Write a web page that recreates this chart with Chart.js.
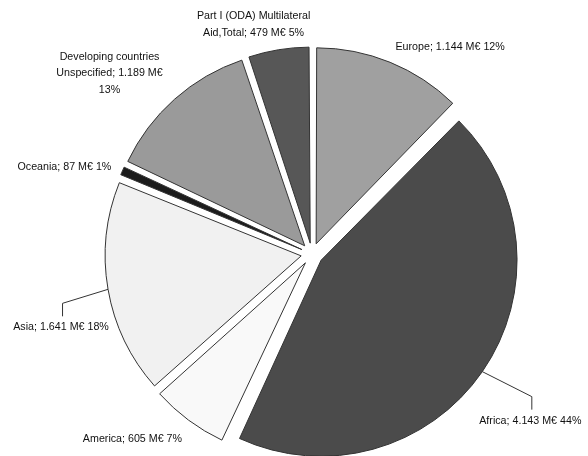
<!DOCTYPE html>
<html>
<head>
<meta charset="utf-8">
<script src="https://cdn.jsdelivr.net/npm/chart.js@4"></script>
<style>
  html, body { margin: 0; padding: 0; background: #fff; }
  #wrap { width: 588px; height: 456px; position: relative; }
</style>
</head>
<body>
<div id="wrap"><canvas id="pieChart"></canvas></div>
<script>
const regions = ['Europe', 'Africa', 'America', 'Asia', 'Oceania', 'Developing countries Unspecified', 'Part I (ODA) Multilateral Aid,Total'];
const valuesMEur = [1144, 4143, 605, 1641, 87, 1189, 479];
const percents = [12, 44, 7, 18, 1, 13, 5];

const sliceColors = ['#a0a0a0', '#4b4b4b', '#f9f9f9', '#f1f1f1', '#1c1c1c', '#9a9a9a', '#575757'];
// where each label sits, measured from the slice edge at its middle angle
const labelShift = [[60, -15], [48, 49], [-56, 19], [-47, 38], [-58, -4], [-65, -26], [-25, -25]];
const labelWrap = [200, 200, 200, 200, 200, 125, 130];
const leaderLine = [false, true, false, true, false, false, false];

function thousands(v) {
    return String(v).replace(/\B(?=(\d{3})+(?!\d))/g, '.');
}

function wrapText(ctx, text, maxW) {
    const words = text.split(' ');
    const lines = [];
    let cur = '';
    words.forEach(w => {
        const t = cur ? cur + ' ' + w : w;
        if (cur && ctx.measureText(t).width > maxW) {
            lines.push(cur);
            cur = w;
        } else {
            cur = t;
        }
    });
    if (cur) lines.push(cur);
    return lines;
}

const pieLabels = {
    id: 'pieLabels',
    beforeDatasetsDraw(chart) {
        // keep every exploded slice at the same radius
        const meta = chart.getDatasetMeta(0);
        const r = meta.controller.outerRadius;
        meta.data.forEach(arc => {
            const off = (arc.options.offset || 0) / 4;
            const fix = 1 - Math.sin(Math.min(Math.PI, arc.circumference));
            arc.outerRadius = r - off * fix;
        });
    },
    afterDatasetsDraw(chart) {
        const ctx = chart.ctx;
        const meta = chart.getDatasetMeta(0);
        const r = meta.controller.outerRadius;
        ctx.save();
        ctx.font = "10.7px 'Liberation Sans', Arial, sans-serif";
        ctx.fillStyle = '#111';
        ctx.strokeStyle = '#333';
        ctx.lineWidth = 1;
        ctx.textAlign = 'center';
        ctx.textBaseline = 'middle';
        meta.data.forEach((arc, i) => {
            const mid = (arc.startAngle + arc.endAngle) / 2;
            const d = r + (arc.options.offset || 0) / 4;
            const ex = arc.x + Math.cos(mid) * d;
            const ey = arc.y + Math.sin(mid) * d;
            const lx = ex + labelShift[i][0];
            const ly = ey + labelShift[i][1];
            const text = regions[i] + '; ' + thousands(valuesMEur[i]) + ' M\u20ac ' + percents[i] + '%';
            const lines = wrapText(ctx, text, labelWrap[i]);
            lines.forEach((t, k) => {
                ctx.fillText(t, lx, ly + (k - (lines.length - 1) / 2) * 16.5);
            });
            if (leaderLine[i]) {
                ctx.beginPath();
                ctx.moveTo(ex, ey);
                ctx.lineTo(lx + 1.5, ly - 24);
                ctx.lineTo(lx + 1.5, ly - 11);
                ctx.stroke();
            }
        });
        ctx.restore();
    }
};

const pieChart = new Chart(document.getElementById('pieChart'), {
    type: 'pie',
    data: {
        labels: regions,
        datasets: [{
            data: valuesMEur,
            backgroundColor: sliceColors,
            borderColor: '#333',
            borderWidth: 1,
            offset: 44,
            radius: 196,
            clip: false
        }]
    },
    options: {
        responsive: true,
        maintainAspectRatio: false,
        animation: false,
        layout: { padding: { left: 36, right: 0, top: 52, bottom: 0 } },
        plugins: {
            legend: { display: false },
            tooltip: { enabled: false }
        }
    },
    plugins: [pieLabels]
});
</script>
</body>
</html>
